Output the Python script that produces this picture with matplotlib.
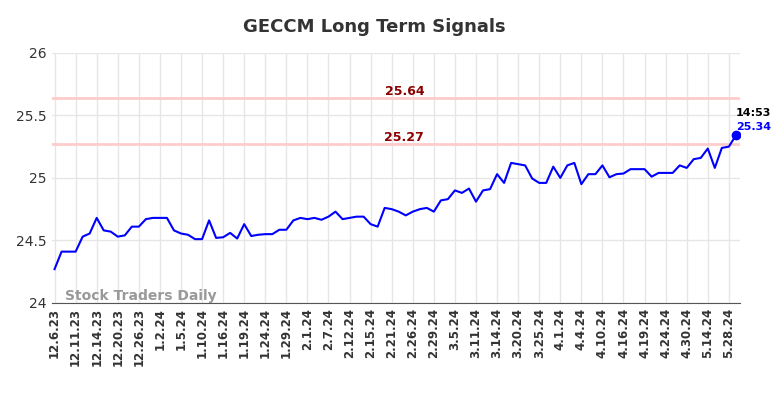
import numpy as np
import matplotlib.pyplot as plt

# closing values
prices = [24.27, 24.41, 24.41, 24.41, 24.53, 24.555, 24.68, 24.58, 24.57, 24.53,
          24.54, 24.61, 24.61, 24.67, 24.68, 24.68, 24.68, 24.58, 24.555, 24.545,
          24.51, 24.51, 24.66, 24.52, 24.525, 24.56, 24.515, 24.63, 24.535, 24.545,
          24.55, 24.55, 24.585, 24.585, 24.66, 24.68, 24.67, 24.68, 24.665, 24.69,
          24.73, 24.67, 24.68, 24.69, 24.69, 24.63, 24.61, 24.76, 24.75, 24.73,
          24.70, 24.73, 24.75, 24.76, 24.73, 24.82, 24.83, 24.90, 24.88, 24.915,
          24.81, 24.90, 24.91, 25.03, 24.96, 25.12, 25.11, 25.10, 24.995, 24.96,
          24.96, 25.09, 25.00, 25.10, 25.12, 24.95, 25.03, 25.03, 25.10, 25.005,
          25.03, 25.035, 25.07, 25.07, 25.07, 25.01, 25.04, 25.04, 25.04, 25.10,
          25.08, 25.15, 25.16, 25.235, 25.08, 25.24, 25.25, 25.34]

tick_labels = ['12.6.23', '12.11.23', '12.14.23', '12.20.23', '12.26.23', '1.2.24',
               '1.5.24', '1.10.24', '1.16.24', '1.19.24', '1.24.24', '1.29.24',
               '2.1.24', '2.7.24', '2.12.24', '2.15.24', '2.21.24', '2.26.24',
               '2.29.24', '3.5.24', '3.11.24', '3.14.24', '3.20.24', '3.25.24',
               '4.1.24', '4.4.24', '4.10.24', '4.16.24', '4.19.24', '4.24.24',
               '4.30.24', '5.14.24', '5.28.24']

levels = [25.64, 25.27]
last_time = '14:53'

x = np.arange(len(prices))
tick_pos = x[::3][:len(tick_labels)]

fig = plt.figure(figsize=(7.84, 3.98), dpi=100)
ax = fig.add_axes([0.066, 0.239, 0.878, 0.628])

ax.grid(True, color='#e6e6e6', linewidth=1)
ax.set_axisbelow(True)

for lv in levels:
    ax.axhline(lv, color='#ffcccc', linewidth=2, zorder=1)
    ax.text(49.8, lv + 0.0, f'{lv:.2f}', color='#8b0000',
            fontsize=9, fontweight='bold', ha='center', va='bottom')

ax.plot(x, prices, color='#0000ff', linewidth=1.5, zorder=3)
ax.plot(x[-1], prices[-1], 'o', color='#0000ff', markersize=6, zorder=4)
ax.text(x[-1], prices[-1] + 0.14, last_time, fontsize=8, fontweight='bold',
        color='black', ha='left', va='bottom')
ax.text(x[-1], prices[-1] + 0.03, f'{prices[-1]:.2f}', fontsize=8,
        fontweight='bold', color='#0000ff', ha='left', va='bottom')

ax.text(1.5, 24.0, 'Stock Traders Daily', fontsize=10, fontweight='bold',
        color='#999999', ha='left', va='bottom')

ax.set_xlim(-0.4, 97.6)
ax.set_ylim(24, 26)
ax.set_yticks([24, 24.5, 25, 25.5, 26])
ax.set_yticklabels(['24', '24.5', '25', '25.5', '26'], fontsize=10, color='#333333')
ax.set_xticks(tick_pos)
ax.set_xticklabels(tick_labels, rotation=90, fontsize=8.5, fontweight='bold',
                   color='#333333')
ax.tick_params(length=0)

for s in ['top', 'right', 'left']:
    ax.spines[s].set_visible(False)
ax.spines['bottom'].set_color('#555555')

fig.suptitle('GECCM Long Term Signals', x=0.478, y=0.955, fontsize=13,
             fontweight='bold', color='#333333')

fig.savefig('out.png', dpi=100)
